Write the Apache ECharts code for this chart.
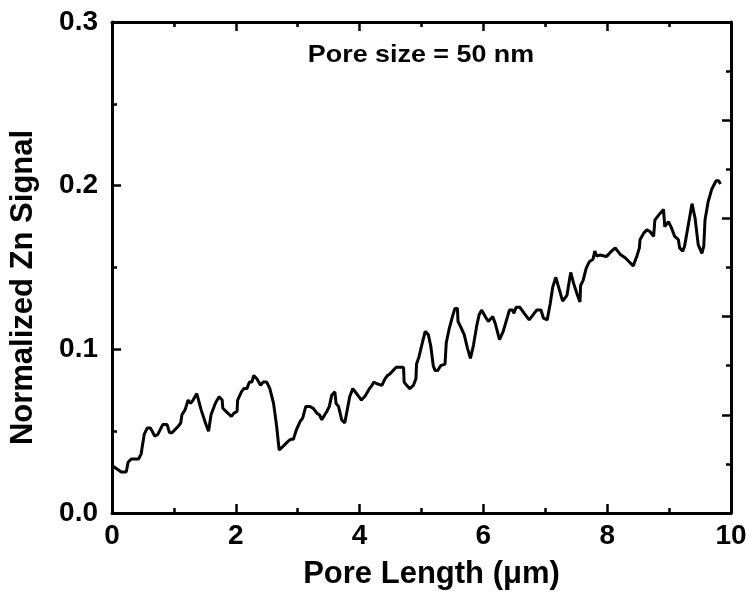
<!DOCTYPE html>
<html>
<head>
<meta charset="utf-8">
<script src="https://cdn.jsdelivr.net/npm/echarts@6/dist/echarts.min.js"></script>
<style>html,body{margin:0;padding:0;background:#fff}#c{width:749px;height:592px}</style>
</head>
<body>
<div id="c"></div>
<script>
const xTicks = [0, 2, 4, 6, 8, 10];
const yTicks = [0.0, 0.1, 0.2, 0.3];
const xLabel = 'Pore Length (\u03bcm)';
const yLabel = 'Normalized Zn Signal';
const note = 'Pore size = 50 nm';

const poreLength = [
0.00,0.15,0.23,0.26,0.31,0.43,0.47,0.52,0.57,0.62,0.69,0.74,0.82,0.89,0.93,0.97,
1.07,1.11,1.13,1.18,1.23,1.27,1.31,1.37,1.44,1.51,1.56,1.60,1.67,1.73,1.78,1.79,1.87,1.93,1.97,
2.02,2.03,2.09,2.13,2.18,2.22,2.26,2.29,2.34,2.40,2.44,2.50,2.55,2.61,2.66,2.70,2.77,2.85,2.89,2.93,2.98,
3.04,3.08,3.13,3.20,3.25,3.31,3.35,3.39,3.42,3.47,3.51,3.55,3.60,3.62,3.66,3.71,3.76,3.80,3.84,3.89,3.95,
4.03,4.09,4.16,4.20,4.23,4.28,4.36,4.41,4.45,4.49,4.54,4.59,4.71,4.72,4.76,4.81,4.87,4.91,4.92,4.96,
5.02,5.06,5.11,5.15,5.19,5.22,5.26,5.31,5.38,5.40,5.45,5.50,5.54,5.58,5.59,5.63,5.69,5.74,5.79,5.84,5.89,5.93,5.97,
6.03,6.08,6.15,6.19,6.26,6.32,6.39,6.42,6.47,6.49,6.53,6.59,6.66,6.74,6.82,6.86,6.93,6.97,
7.03,7.08,7.12,7.17,7.23,7.28,7.35,7.41,7.46,7.52,7.56,7.57,7.61,7.66,7.71,7.77,7.80,7.83,7.88,7.99,
8.07,8.13,8.21,8.29,8.42,8.48,8.52,8.53,8.59,8.64,8.69,8.75,8.77,8.83,8.86,8.91,8.93,8.99,
9.04,9.09,9.15,9.17,9.22,9.25,9.31,9.37,9.42,9.47,9.53,9.56,9.58,9.63,9.69,9.76,9.80,9.83
];
const znSignal = [
0.029,0.025,0.025,0.031,0.033,0.033,0.036,0.048,0.052,0.052,0.047,0.048,0.054,0.054,0.049,0.049,
0.053,0.055,0.060,0.063,0.069,0.067,0.069,0.073,0.063,0.055,0.050,0.060,0.067,0.071,0.069,0.064,0.061,0.059,0.061,
0.062,0.069,0.074,0.076,0.076,0.080,0.080,0.084,0.082,0.078,0.080,0.080,0.076,0.067,0.053,0.0385,0.041,0.044,0.045,0.045,0.051,
0.056,0.058,0.065,0.065,0.064,0.061,0.060,0.057,0.059,0.062,0.065,0.072,0.074,0.067,0.065,0.057,0.055,0.063,0.071,0.076,0.073,
0.069,0.0715,0.076,0.078,0.080,0.079,0.078,0.082,0.084,0.085,0.087,0.089,0.089,0.080,0.078,0.076,0.078,0.082,0.091,0.0955,
0.105,0.111,0.109,0.102,0.090,0.087,0.087,0.090,0.091,0.104,0.113,0.120,0.125,0.125,0.117,0.114,0.109,0.101,0.0945,0.1026,0.114,0.121,0.124,
0.120,0.117,0.120,0.116,0.106,0.111,0.120,0.124,0.124,0.122,0.1257,0.1257,0.122,0.118,0.122,0.124,0.124,0.119,
0.118,0.128,0.138,0.144,0.136,0.1295,0.133,0.147,0.140,0.133,0.129,0.139,0.142,0.1495,0.1535,0.155,0.160,0.157,0.1576,0.1567,
0.160,0.162,0.158,0.156,0.151,0.157,0.162,0.167,0.171,0.173,0.172,0.169,0.179,0.182,0.181,0.1855,0.175,0.178,
0.174,0.169,0.167,0.162,0.160,0.163,0.176,0.189,0.180,0.164,0.1586,0.163,0.179,0.190,0.198,0.203,0.203,0.201
];

const FONT = '"Liberation Sans", Arial, sans-serif';
const chart = echarts.init(document.getElementById('c'), null, {renderer: 'canvas'});
const lineStyle = {color: '#000', width: 3};
const axisCommon = {
  axisLine: {show: true, onZero: false, lineStyle: lineStyle},
  axisTick: {show: true, inside: true, length: 9, lineStyle: {color: '#000', width: 2.5}},
  minorTick: {show: true, splitNumber: 2, length: 5, lineStyle: {color: '#000', width: 2.5}},
  splitLine: {show: false},
  minorSplitLine: {show: false}
};
const data = poreLength.map((x, i) => [x, znSignal[i]]);

chart.setOption({
  animation: false,
  backgroundColor: '#fff',
  grid: {left: 112, right: 18, top: 22, bottom: 79, containLabel: false, outerBoundsMode: 'none'},
  xAxis: [
    Object.assign({}, axisCommon, {
      type: 'value', position: 'bottom', min: xTicks[0], max: xTicks[xTicks.length - 1], interval: 2,
      axisLabel: {show: true, color: '#000', fontFamily: FONT, fontWeight: 'bold', fontSize: 28, margin: 9},
      name: xLabel, nameLocation: 'middle', nameGap: 46,
      nameTextStyle: {color: '#000', fontFamily: FONT, fontWeight: 'bold', fontSize: 31, padding: [0, 0, 0, 20]}
    }),
    Object.assign({}, axisCommon, {
      type: 'value', position: 'top', min: 0, max: 10, interval: 2,
      axisLabel: {show: false}
    })
  ],
  yAxis: [
    Object.assign({}, axisCommon, {
      type: 'value', position: 'left', min: yTicks[0], max: yTicks[yTicks.length - 1], interval: 0.1,
      axisLabel: {show: true, color: '#000', fontFamily: FONT, fontWeight: 'bold', fontSize: 28, margin: 14,
        formatter: v => v.toFixed(1)},
      name: yLabel, nameLocation: 'middle', nameGap: 73,
      nameTextStyle: {color: '#000', fontFamily: FONT, fontWeight: 'bold', fontSize: 31, padding: [0, 40, 0, 0]}
    }),
    Object.assign({}, axisCommon, {
      type: 'value', position: 'right', min: 0, max: 5, interval: 1,
      axisLabel: {show: false}
    })
  ],
  graphic: [{
    type: 'text', x: 421, y: 55, scaleX: 1.12,
    style: {text: note, fill: '#000', font: 'bold 24px ' + FONT, align: 'center', verticalAlign: 'middle'}
  }],
  series: [{
    type: 'line', data: data, xAxisIndex: 0, yAxisIndex: 0,
    showSymbol: false, symbol: 'none', smooth: false,
    lineStyle: {color: '#000', width: 3}
  }]
});
</script>
</body>
</html>
